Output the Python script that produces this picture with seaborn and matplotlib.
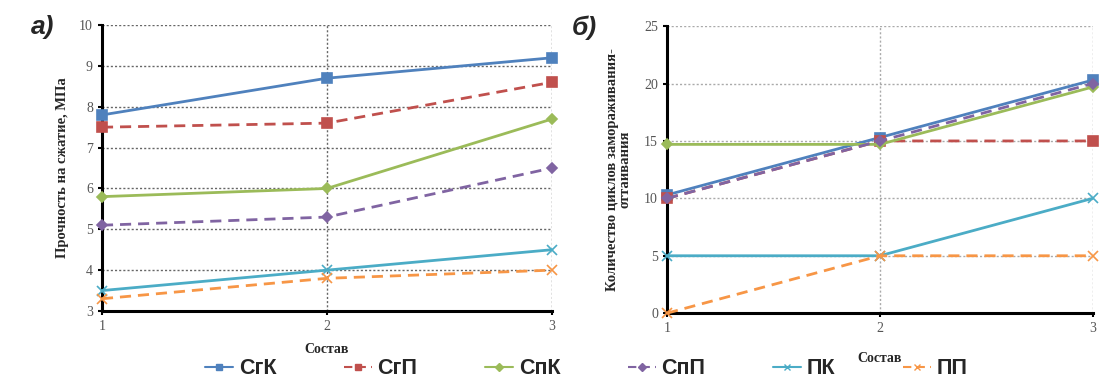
import matplotlib
matplotlib.use("Agg")
import matplotlib.pyplot as plt
import seaborn as sns
import pandas as pd
from matplotlib.lines import Line2D

# Составы и серии
compositions = [1, 2, 3]
series_names = ["СгК", "СгП", "СпК", "СпП", "ПК", "ПП"]

# а) прочность на сжатие, МПа
strength_SgK = [7.8, 8.7, 9.2]
strength_SgP = [7.5, 7.6, 8.6]
strength_SpK = [5.8, 6.0, 7.7]
strength_SpP = [5.1, 5.3, 6.5]
strength_PK = [3.5, 4.0, 4.5]
strength_PP = [3.3, 3.8, 4.0]

# б) количество циклов замораживания-оттаивания
cycles_SgK = [10.3, 15.3, 20.3]
cycles_SgP = [10.0, 15.0, 15.0]
cycles_SpK = [14.7, 14.7, 19.7]
cycles_SpP = [10.0, 15.0, 20.0]
cycles_PK = [5.0, 5.0, 10.0]
cycles_PP = [0.0, 5.0, 5.0]

colors = {"СгК": "#4F81BD", "СгП": "#C0504D", "СпК": "#9BBB59",
          "СпП": "#8064A2", "ПК": "#4BACC6", "ПП": "#F79646"}
markers = {"СгК": "s", "СгП": "s", "СпК": "D", "СпП": "D", "ПК": "x", "ПП": "x"}
msizes = {"СгК": 7, "СгП": 7, "СпК": 5.5, "СпП": 5.5, "ПК": 7, "ПП": 7}
dashes = {"СгК": "", "СгП": (4, 2.5), "СпК": "", "СпП": (4, 2.5), "ПК": "", "ПП": (4, 2.5)}


def long_frame(values):
    rows = []
    for name, vals in zip(series_names, values):
        for x, v in zip(compositions, vals):
            rows.append({"Состав": x, "value": v, "series": name})
    return pd.DataFrame(rows)


df_a = long_frame([strength_SgK, strength_SgP, strength_SpK,
                   strength_SpP, strength_PK, strength_PP])
df_b = long_frame([cycles_SgK, cycles_SgP, cycles_SpK,
                   cycles_SpP, cycles_PK, cycles_PP])

sns.set_theme(style="white")
plt.rcParams["font.family"] = ["Liberation Serif", "DejaVu Serif"]

fig = plt.figure(figsize=(11, 3.9), dpi=100)
ax_a = fig.add_axes([0.0927, 0.2026, 0.409, 0.733])
ax_b = fig.add_axes([0.6064, 0.197, 0.387, 0.736])


def draw(ax, df, grid_color):
    for name in series_names:
        sub = df[df["series"] == name]
        sns.lineplot(data=sub, x="Состав", y="value", ax=ax,
                     color=colors[name], marker=markers[name],
                     markersize=msizes[name], markeredgewidth=1.2,
                     markeredgecolor=colors[name], linewidth=2,
                     dashes=False, legend=False, zorder=3, clip_on=False)
        line = ax.lines[-1]
        if dashes[name]:
            line.set_dashes(dashes[name])
    ax.set_xlim(1, 3)
    ax.set_xticks(compositions)
    ax.grid(True, linestyle=(0, (1.5, 1.5)), color=grid_color, linewidth=1)
    for s in ["top", "right"]:
        ax.spines[s].set_visible(False)
    for s in ["left", "bottom"]:
        ax.spines[s].set_color("black")
        ax.spines[s].set_linewidth(2.2)
    ax.tick_params(axis="both", labelsize=10, labelcolor="#555555",
                   length=3, width=1.5, color="black", direction="out",
                   left=True, bottom=True)
    ax.set_xlabel("Состав", fontsize=10, fontweight="bold", labelpad=7)


draw(ax_a, df_a, "#666666")
ax_a.set_ylim(3, 10)
ax_a.set_yticks(range(3, 11))
ax_a.set_ylabel("Прочность на сжатие, МПа", fontsize=10.5,
                fontweight="bold", labelpad=7)

draw(ax_b, df_b, "#aaaaaa")
ax_b.set_ylim(0, 25)
ax_b.set_yticks(range(0, 26, 5))
ax_b.set_ylabel("Количество циклов замораживания-\nоттаивания",
                fontsize=10.5, fontweight="bold", labelpad=9,
                linespacing=1.0)
ax_b.xaxis.set_label_coords(0.5, -0.135)

# Метки панелей
fig.text(0.028, 0.93, "а)", fontsize=19, fontweight="bold", fontstyle="italic",
         family=["Liberation Sans", "DejaVu Sans"], va="center")
fig.text(0.52, 0.93, "б)", fontsize=19, fontweight="bold", fontstyle="italic",
         family=["Liberation Sans", "DejaVu Sans"], va="center")

# Общая легенда
handles = [Line2D([], [], color=colors[n], marker=markers[n], markersize=4.5,
                  linewidth=1.5, dashes=dashes[n] if dashes[n] else (None, None))
           for n in series_names]
fig.legend(handles, series_names, loc="center", bbox_to_anchor=(0.533, 0.055),
           ncol=6, frameon=False, handlelength=1.3, handletextpad=0.25,
           columnspacing=3.15,
           prop={"family": ["Liberation Sans", "DejaVu Sans"],
                 "weight": "bold", "size": 15.5})

fig.savefig("out.png", dpi=100)
